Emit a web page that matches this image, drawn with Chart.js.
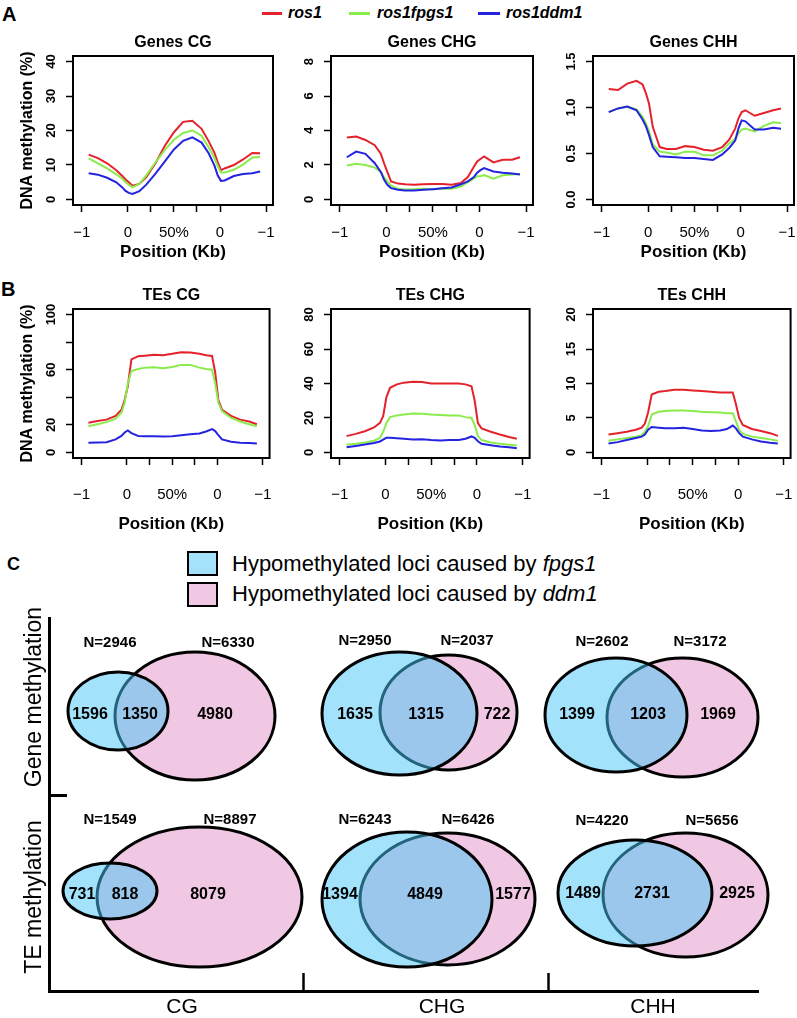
<!DOCTYPE html>
<html>
<head>
<meta charset="utf-8">
<title>DNA methylation profiles</title>
<script src="https://cdn.jsdelivr.net/npm/chart.js@4.4.1/dist/chart.umd.min.js"></script>
<style>
  html, body { margin: 0; padding: 0; background: #fff; overflow: hidden; }
  #page { position: relative; width: 797px; height: 1018px; overflow: hidden; font-family: "Liberation Sans", Arial, sans-serif; color: #000; }
  #page canvas { position: absolute; }
  .t { position: absolute; white-space: nowrap; }
</style>
</head>
<body>
<div id="page"></div>
<script>
// ---- data: methylation profiles (bins along -1kb / body / +1kb) ----
const genotypes = ['ros1', 'ros1fpgs1', 'ros1ddm1'];
const binPos = [0.15, 0.35, 0.55, 0.75, 0.88, 0.95, 1.02, 1.1, 1.25, 1.4, 1.6, 1.8, 2.0, 2.2, 2.4, 2.6, 2.75, 2.88, 2.95, 3.02, 3.1, 3.3, 3.5, 3.7, 3.87];
const xTickValues = [0, 1, 1.5, 2, 2.5, 3, 4];
const xTickLabels = ['\u22121', '0', '', '50%', '', '0', '\u22121'];

const genesCgRos1 = [13.0, 12.0, 10.5, 8.5, 6.8, 5.8, 5.0, 4.0, 4.5, 6.5, 10.5, 15.5, 19.5, 22.5, 22.8, 20.5, 17.0, 13.5, 10.8, 8.5, 9.0, 10.0, 11.6, 13.5, 13.4];
const genesCgFpgs1 = [11.9, 10.5, 9.0, 7.3, 6.0, 5.0, 4.3, 3.6, 4.5, 7.0, 10.8, 14.3, 17.3, 19.3, 20.0, 18.5, 15.2, 12.0, 9.7, 7.8, 7.8, 8.6, 10.1, 12.2, 12.3];
const genesCgDdm1 = [7.6, 7.2, 6.3, 5.0, 3.5, 2.5, 1.9, 1.6, 2.4, 4.3, 7.5, 11.0, 14.5, 17.0, 18.0, 16.5, 13.5, 9.8, 7.0, 5.4, 5.5, 6.8, 7.4, 7.6, 8.1];

const genesChgRos1 = [3.6, 3.65, 3.45, 3.15, 2.65, 2.1, 1.6, 1.05, 0.92, 0.88, 0.85, 0.88, 0.9, 0.9, 0.86, 0.95, 1.3, 1.9, 2.2, 2.35, 2.5, 2.15, 2.3, 2.3, 2.45];
const genesChgFpgs1 = [1.97, 2.07, 2.0, 1.85, 1.6, 1.3, 1.05, 0.8, 0.62, 0.58, 0.6, 0.62, 0.6, 0.62, 0.62, 0.75, 1.0, 1.2, 1.35, 1.35, 1.42, 1.2, 1.4, 1.45, 1.48];
const genesChgDdm1 = [2.45, 2.78, 2.65, 2.1, 1.6, 1.15, 0.85, 0.66, 0.56, 0.52, 0.52, 0.56, 0.6, 0.65, 0.7, 0.88, 1.05, 1.3, 1.55, 1.7, 1.82, 1.62, 1.55, 1.5, 1.45];

const genesChhRos1 = [1.20, 1.19, 1.26, 1.29, 1.25, 1.16, 1.04, 0.79, 0.57, 0.55, 0.55, 0.58, 0.57, 0.54, 0.53, 0.57, 0.65, 0.77, 0.88, 0.95, 0.97, 0.91, 0.94, 0.97, 0.99];
const genesChhFpgs1 = [0.95, 0.99, 1.01, 0.98, 0.9, 0.83, 0.74, 0.6, 0.52, 0.51, 0.49, 0.52, 0.52, 0.48, 0.48, 0.53, 0.61, 0.66, 0.72, 0.76, 0.77, 0.74, 0.8, 0.84, 0.83];
const genesChhDdm1 = [0.95, 0.99, 1.01, 0.97, 0.87, 0.8, 0.7, 0.57, 0.47, 0.465, 0.46, 0.45, 0.45, 0.44, 0.43, 0.49, 0.56, 0.64, 0.77, 0.86, 0.85, 0.76, 0.76, 0.78, 0.77];

const tesCgRos1 = [21.5, 22.8, 23.8, 26.5, 31, 38, 48, 67.5, 69.8, 70.2, 70.8, 70.5, 71.5, 72.7, 72.5, 71.5, 70.5, 70, 58, 38, 31, 26.5, 23.8, 22.5, 20.5];
const tesCgFpgs1 = [19, 20.5, 22, 24.5, 29, 36, 50, 59, 60.5, 61.5, 61.8, 61, 62, 63.5, 63.5, 61.5, 60.5, 60, 50, 36, 30, 25, 22.5, 20.5, 19];
const tesCgDdm1 = [7, 7.2, 7.5, 9.5, 12, 14.5, 16, 14, 12, 11.8, 11.8, 11.6, 11.8, 12.5, 13.2, 13.8, 15.2, 17, 15.5, 12.5, 9.5, 7.8, 7, 6.8, 6.5];

const tesChgRos1 = [9.5, 10.8, 12.3, 14.5, 17.2, 21, 32, 37.5, 39.5, 40.5, 41, 40.8, 40, 40, 40, 40, 39.5, 38.4, 30, 17, 14, 12, 10.4, 9, 8];
const tesChgFpgs1 = [4.5, 5.0, 5.8, 6.8, 8.5, 12, 17, 20.5, 21.5, 22, 22.6, 22.4, 22, 21.8, 21.5, 21.5, 20.5, 20, 16, 9.5, 7.2, 5.8, 5, 4.5, 4];
const tesChgDdm1 = [3, 3.8, 4.6, 5.5, 6.4, 7.5, 8.5, 8.6, 8.3, 8, 7.5, 7.6, 7.2, 7.0, 7.2, 7.3, 8, 9.3, 8.5, 6.5, 5, 4.2, 3.5, 3, 2.5];

const tesChhRos1 = [2.6, 2.8, 3.0, 3.3, 3.6, 4.2, 5.8, 8.4, 8.8, 8.9, 9.1, 9.1, 9.0, 8.9, 8.8, 8.7, 8.7, 8.7, 7.0, 5.0, 4.0, 3.4, 3.1, 2.8, 2.4];
const tesChhFpgs1 = [1.7, 1.9, 2.1, 2.3, 2.5, 3.0, 3.8, 5.5, 5.9, 6.0, 6.1, 6.1, 6.0, 5.9, 5.85, 5.8, 5.7, 5.7, 4.5, 3.3, 2.7, 2.3, 2.1, 1.9, 1.7];
const tesChhDdm1 = [1.3, 1.5, 1.8, 2.1, 2.3, 2.6, 3.3, 3.7, 3.6, 3.5, 3.5, 3.6, 3.4, 3.2, 3.1, 3.2, 3.4, 3.9, 3.5, 2.8, 2.3, 1.9, 1.6, 1.4, 1.3];

const genesCgTicks = [0, 10, 20, 30, 40];
const genesChgTicks = [0, 2, 4, 6, 8];
const genesChhTicks = [0, 0.5, 1, 1.5];
const genesChhTickLabels = ['0.0', '0.5', '1.0', '1.5'];
const tesCgTicks = [0, 20, 40, 60, 80, 100];
const tesCgTickLabels = ['0', '20', '', '60', '', '100'];
const tesChgTicks = [0, 20, 40, 60, 80];
const tesChhTicks = [0, 5, 10, 15, 20];

// ---- data: hypomethylated loci (Venn counts) ----
const contexts = ['CG', 'CHG', 'CHH'];
const regions = ['Gene methylation', 'TE methylation'];
const setNames = ['fpgs1', 'ddm1'];
const geneFpgsOnly = [1596, 1635, 1399];
const geneShared = [1350, 1315, 1203];
const geneDdmOnly = [4980, 722, 1969];
const teFpgsOnly = [731, 1394, 1489];
const teShared = [818, 4849, 2731];
const teDdmOnly = [8079, 1577, 2925];

// ---- layout ----
const FONT = '"Liberation Sans", Arial, sans-serif';
const lineColors = ['#e3222b', '#8aec4c', '#2323e0'];
const colBox = [[73, 273], [331, 533], [593, 794]];
const rowBox = [[56, 205], [309, 458]];
const rowText = [{ tickPad: 11.5, posGap: 47 }, { tickPad: 21, posGap: 66 }];

const panels = [
  { title: 'Genes CG', series: [genesCgRos1, genesCgFpgs1, genesCgDdm1], ticks: genesCgTicks, labels: genesCgTicks.map(String) },
  { title: 'Genes CHG', series: [genesChgRos1, genesChgFpgs1, genesChgDdm1], ticks: genesChgTicks, labels: genesChgTicks.map(String) },
  { title: 'Genes CHH', series: [genesChhRos1, genesChhFpgs1, genesChhDdm1], ticks: genesChhTicks, labels: genesChhTickLabels },
  { title: 'TEs CG', series: [tesCgRos1, tesCgFpgs1, tesCgDdm1], ticks: tesCgTicks, labels: tesCgTickLabels },
  { title: 'TEs CHG', series: [tesChgRos1, tesChgFpgs1, tesChgDdm1], ticks: tesChgTicks, labels: tesChgTicks.map(String) },
  { title: 'TEs CHH', series: [tesChhRos1, tesChhFpgs1, tesChhDdm1], ticks: tesChhTicks, labels: tesChhTicks.map(String) }
];

// venn shapes: ellipses [cx, cy, rx, ry] in page pixels (panel C scale units)
const vennShapes = [
  { fpgs: [118, 711, 50, 39], ddm: [195, 716, 80, 64], numX: [90, 140, 215], numY: 715, nX: [110, 228], nY: 643 },
  { fpgs: [399.5, 713.5, 77.5, 61.5], ddm: [448.5, 712.5, 68.5, 57.5], numX: [355, 426, 497], numY: 715, nX: [365, 467], nY: 641 },
  { fpgs: [616, 715, 71, 57], ddm: [682.5, 717.5, 75.5, 59.5], numX: [577, 648, 718], numY: 715, nX: [602, 700], nY: 642 },
  { fpgs: [110, 891, 47, 28], ddm: [199.5, 897, 102.5, 70], numX: [82, 125, 208], numY: 895, nX: [110, 230], nY: 820 },
  { fpgs: [407, 899.5, 85, 67.5], ddm: [447.5, 899, 87.5, 66], numX: [340, 425, 513], numY: 895, nX: [365, 468], nY: 820 },
  { fpgs: [635, 893, 77, 53], ddm: [685.5, 895, 82.5, 62], numX: [583, 652, 737], numY: 894, nX: [602, 712], nY: 821 }
];
const contextCenters = [182, 442, 653];
const contextBreaks = [303, 548];
const regionCenters = [697, 897];
const pinkFill = '#f1c8e3';
const blueFill = 'rgba(70, 197, 245, 0.5)';

const page = document.getElementById('page');

function addText(html, left, top, font) {
  const d = document.createElement('div');
  d.className = 't';
  d.style.left = left + 'px';
  d.style.top = top + 'px';
  d.style.font = font;
  d.innerHTML = html;
  page.appendChild(d);
  return d;
}
function addBox(left, top, w, h, css) {
  const d = document.createElement('div');
  d.style.position = 'absolute';
  d.style.left = left + 'px'; d.style.top = top + 'px';
  d.style.width = w + 'px'; d.style.height = h + 'px';
  d.style.boxSizing = 'border-box';
  Object.assign(d.style, css);
  page.appendChild(d);
}
function makeCanvas(left, top, w, h) {
  const c = document.createElement('canvas');
  c.width = w; c.height = h;
  c.style.left = left + 'px'; c.style.top = top + 'px';
  c.style.width = w + 'px'; c.style.height = h + 'px';
  page.appendChild(c);
  return c;
}

// panel letters
addText('A', 2, 4, 'bold 20px/20px ' + FONT);
addText('B', 1, 279, 'bold 20px/20px ' + FONT);
addText('C', 7, 555, 'bold 18px/18px ' + FONT);

// top legend
const legendPos = [[262, 20, 288], [349, 21, 377], [478, 22, 506]];
genotypes.forEach((g, i) => {
  const [x, w, tx] = legendPos[i];
  addBox(x, 11.5, w, 3.5, { background: lineColors[i] });
  addText(g, tx, 5, 'italic bold 16px/16px ' + FONT);
});

// line-plot decorations: frame, rotated y labels, titles
const plotDeco = {
  id: 'plotDeco',
  afterDraw(chart, args, o) {
    const { ctx, chartArea: a, scales: { y } } = chart;
    ctx.save();
    ctx.strokeStyle = '#000';
    ctx.lineWidth = 2;
    ctx.strokeRect(a.left, a.top, a.right - a.left, a.bottom - a.top);
    ctx.fillStyle = '#000';
    ctx.textAlign = 'center';
    ctx.textBaseline = 'middle';
    const cx = (a.left + a.right) / 2;
    ctx.font = 'bold 16px ' + FONT;
    ctx.fillText(o.title, cx, a.top - 13);
    ctx.font = 'bold 17px ' + FONT;
    ctx.fillText('Position (Kb)', cx, a.bottom + o.posGap);
    ctx.font = 'bold 13px ' + FONT;
    o.ticks.forEach((v, i) => {
      if (!o.labels[i]) return;
      ctx.save();
      ctx.translate(a.left - 22, y.getPixelForValue(v));
      ctx.rotate(-Math.PI / 2);
      ctx.fillText(o.labels[i], 0, 0);
      ctx.restore();
    });
    if (o.yTitle) {
      ctx.save();
      ctx.font = 'bold 16px ' + FONT;
      ctx.translate(a.left - 45, (a.top + a.bottom) / 2);
      ctx.rotate(-Math.PI / 2);
      ctx.fillText(o.yTitle, 0, 0);
      ctx.restore();
    }
    ctx.restore();
  }
};

panels.forEach((p, k) => {
  const row = Math.floor(k / 3), col = k % 3;
  const [bx0, bx1] = colBox[col];
  const [by0, by1] = rowBox[row];
  const padL = 75, padT = 35, padR = 20, padB = 80;
  const canvas = makeCanvas(bx0 - padL, by0 - padT, bx1 - bx0 + padL + padR, by1 - by0 + padT + padB);
  const t0 = p.ticks[0], t1 = p.ticks[p.ticks.length - 1];
  const ext = (t1 - t0) * 0.04;
  new Chart(canvas, {
    type: 'line',
    data: {
      datasets: p.series.map((s, i) => ({
        label: genotypes[i],
        data: binPos.map((x, j) => ({ x: x, y: s[j] })),
        borderColor: lineColors[i],
        borderWidth: 2,
        pointRadius: 0,
        tension: 0,
        order: 3 - i
      }))
    },
    options: {
      responsive: false,
      animation: false,
      events: [],
      layout: { padding: { left: padL - 7, top: padT, right: padR, bottom: padB - 60 } },
      plugins: {
        legend: { display: false },
        tooltip: { enabled: false },
        plotDeco: { title: p.title, ticks: p.ticks, labels: p.labels, posGap: rowText[row].posGap, yTitle: col === 0 ? 'DNA methylation (%)' : '' }
      },
      scales: {
        x: {
          type: 'linear', min: -0.19, max: 4.15,
          afterBuildTicks: s => { s.ticks = xTickValues.map(v => ({ value: v })); },
          afterFit: s => { s.height = 60; },
          border: { display: false },
          grid: { display: true, drawOnChartArea: false, drawTicks: true, tickLength: 7, color: '#000', tickWidth: 1.5 },
          ticks: {
            autoSkip: false, maxRotation: 0, padding: rowText[row].tickPad, color: '#000',
            font: { family: FONT, size: 15 },
            callback: (v, i) => xTickLabels[i]
          }
        },
        y: {
          type: 'linear', min: t0 - ext, max: t1 + ext,
          afterBuildTicks: s => { s.ticks = p.ticks.map(v => ({ value: v })); },
          afterFit: s => { s.width = 7; },
          border: { display: false },
          grid: { display: true, drawOnChartArea: false, drawTicks: true, tickLength: 7, color: '#000', tickWidth: 1.5 },
          ticks: { display: false }
        }
      }
    },
    plugins: [plotDeco]
  });
});

// ---- panel C legend ----
addBox(187, 551, 31, 25, { background: '#a3e2fa', border: '2px solid #000' });
addBox(187, 582, 31, 25, { background: '#f1c8e3', border: '2px solid #000' });
setNames.forEach((n, i) => {
  addText('Hypomethylated loci caused by <i>' + n + '</i>', 232, 553 + i * 30, '22px/22px ' + FONT);
});

// ---- panel C: Venn diagrams on one scale ----
const vennSets = [[geneFpgsOnly, geneShared, geneDdmOnly], [teFpgsOnly, teShared, teDdmOnly]];
const countPoints = [], countTexts = [], totalPoints = [], totalTexts = [];
vennSets.forEach((sets, r) => {
  contexts.forEach((c, i) => {
    const v = vennShapes[r * 3 + i];
    const vals = [sets[0][i], sets[1][i], sets[2][i]];
    vals.forEach((n, j) => { countPoints.push({ x: v.numX[j], y: v.numY }); countTexts.push(String(n)); });
    const nA = sets[0][i] + sets[1][i], nB = sets[1][i] + sets[2][i];
    totalPoints.push({ x: v.nX[0], y: v.nY }, { x: v.nX[1], y: v.nY });
    totalTexts.push('N=' + nA, 'N=' + nB);
  });
});

const vennPlugin = {
  id: 'venn',
  beforeDatasetsDraw(chart) {
    const { ctx, scales: { x, y } } = chart;
    const ell = (e, fill) => {
      const px = x.getPixelForValue(e[0]), py = y.getPixelForValue(e[1]);
      const rx = Math.abs(x.getPixelForValue(e[0] + e[2]) - px);
      const ry = Math.abs(y.getPixelForValue(e[1] + e[3]) - py);
      ctx.beginPath();
      ctx.ellipse(px, py, rx, ry, 0, 0, Math.PI * 2);
      ctx.fillStyle = fill;
      ctx.fill();
      ctx.lineWidth = 3;
      ctx.strokeStyle = '#000';
      ctx.stroke();
    };
    ctx.save();
    vennShapes.forEach(v => { ell(v.ddm, pinkFill); ell(v.fpgs, blueFill); });
    ctx.restore();
  },
  afterDatasetsDraw(chart) {
    const { ctx, scales: { x, y } } = chart;
    ctx.save();
    ctx.fillStyle = '#000';
    ctx.textAlign = 'center';
    ctx.textBaseline = 'middle';
    chart.data.datasets.forEach((ds, d) => {
      ctx.font = 'bold ' + ds.textSize + 'px ' + FONT;
      chart.getDatasetMeta(d).data.forEach((pt, j) => ctx.fillText(ds.texts[j], pt.x, pt.y));
    });
    ctx.font = '23px ' + FONT;
    regions.forEach((r, i) => {
      ctx.save();
      ctx.translate(x.getPixelForValue(35), y.getPixelForValue(regionCenters[i]));
      ctx.rotate(-Math.PI / 2);
      ctx.fillText(r, 0, 0);
      ctx.restore();
    });
    ctx.restore();
  }
};

const vennCanvas = makeCanvas(0, 600, 797, 418);
const cTicks = contextCenters.concat(contextBreaks).sort((a, b) => a - b);
new Chart(vennCanvas, {
  type: 'scatter',
  data: {
    datasets: [
      { data: countPoints, texts: countTexts, textSize: 16, pointRadius: 0 },
      { data: totalPoints, texts: totalTexts, textSize: 15, pointRadius: 0 }
    ]
  },
  options: {
    responsive: false,
    animation: false,
    events: [],
    layout: { padding: { left: 47, top: 18, right: 39, bottom: 0 } },
    plugins: { legend: { display: false }, tooltip: { enabled: false } },
    scales: {
      x: {
        type: 'linear', min: 49, max: 758,
        afterBuildTicks: s => { s.ticks = cTicks.map(v => ({ value: v })); },
        afterFit: s => { s.height = 27; },
        border: { display: true, color: '#000', width: 3 },
        grid: {
          display: true, drawOnChartArea: false, drawTicks: true, tickLength: -18, tickWidth: 2.5,
          tickColor: c => contextBreaks.includes(c.tick.value) ? '#000' : 'rgba(0,0,0,0)'
        },
        ticks: {
          autoSkip: false, maxRotation: 0, padding: 21.4, color: '#000',
          font: { family: FONT, size: 21 },
          callback: v => { const i = contextCenters.indexOf(v); return i >= 0 ? contexts[i] : ''; }
        }
      },
      y: {
        type: 'linear', min: 618, max: 991, reverse: true,
        afterBuildTicks: s => { s.ticks = [795].map(v => ({ value: v })); },
        afterFit: s => { s.width = 2; },
        border: { display: true, color: '#000', width: 3 },
        grid: { display: true, drawOnChartArea: false, drawTicks: true, tickLength: -18, tickWidth: 3, tickColor: '#000' },
        ticks: { display: false }
      }
    }
  },
  plugins: [vennPlugin]
});
</script>
</body>
</html>
